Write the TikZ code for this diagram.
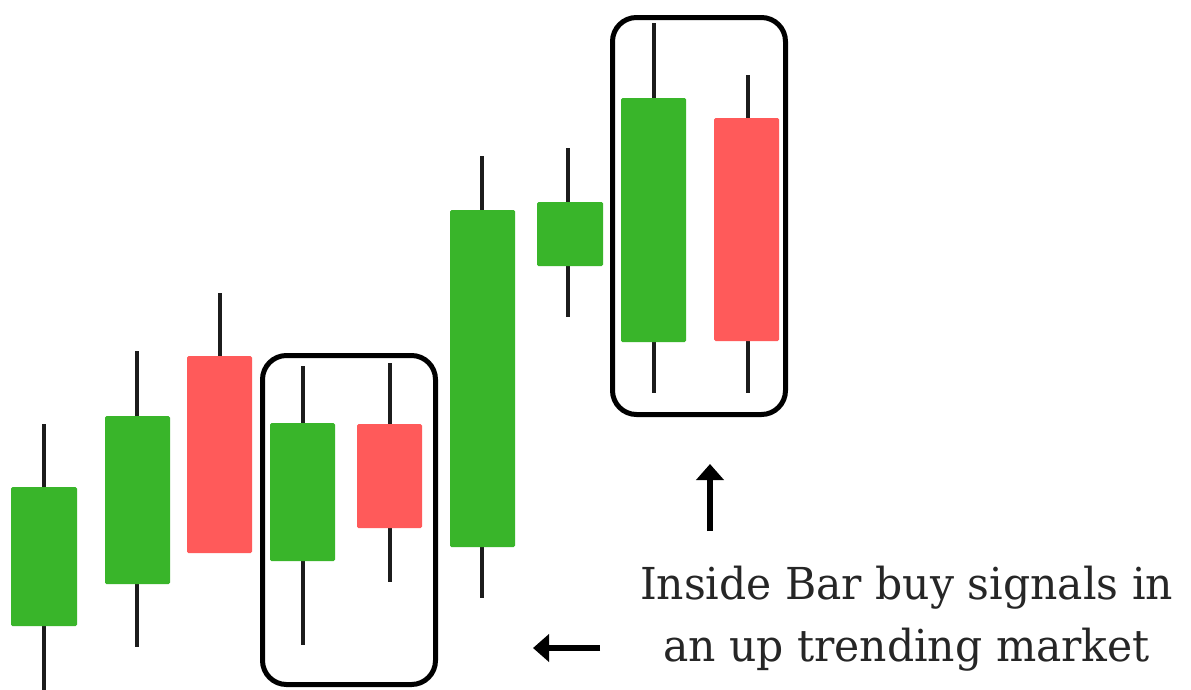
\documentclass[tikz,border=0pt]{standalone}
\usepackage{fontspec}
\setmainfont{DejaVu Serif}
\usetikzlibrary{arrows.meta}

\definecolor{bull}{RGB}{57,181,42}
\definecolor{bear}{RGB}{255,90,90}
\definecolor{wickc}{RGB}{28,28,28}

\newsavebox\captionline
\sbox\captionline{\fontsize{44}{62}\selectfont Inside Bar buy signals in}

\begin{document}
\begin{tikzpicture}[x=1pt,y=-1pt,
  wick/.style={draw=wickc,line width=4pt},
  body/.style={rounded corners=1.5pt},
  signalbox/.style={draw=black,line width=5pt,rounded corners=24pt},
  pointer/.style={draw=black,line width=6.5pt,-{Triangle[width=27pt,length=16pt]}},
  caption/.style={anchor=base,inner sep=0pt,font=\fontsize{44}{62}\selectfont,text=black!85}]
\useasboundingbox (0,0) rectangle (1191,689);
\fill[white] (0,0) rectangle (1191,689);

% candles: body left, body right, body top, body bottom, wick x, wick top, wick bottom, colour
\foreach \l/\r/\t/\b/\w/\wt/\wb/\c in {
  11/77/487/626/44/424/695/bull,
  105/170/416/584/137/351/647/bull,
  187/252/356/553/220/293/553/bear,
  270/335/423/561/303/366/645/bull,
  357/422/424/528/390/363/582/bear,
  450/515/210/547/482/156/598/bull,
  537/603/202/266/568/148/317/bull,
  621/686/98/342/654/23/393/bull,
  714/779/118/341/748/75/393/bear}
{
  \draw[wick] (\w,\wt) -- (\w,\wb);
  \fill[body,\c] (\l,\t) rectangle (\r,\b);
}

% inside bar frames
\draw[signalbox] (262.5,355.5) rectangle (435.5,684.5);
\draw[signalbox] (612.5,17.5) rectangle (785.5,414.5);

% caption
\pgfmathsetmacro\capsx{533/\wd\captionline}
\node[caption] (cap1) at (906.5,599) {\scalebox{\capsx}[1]{Inside Bar buy signals in}};
\node[caption] (cap2) at (906.5,661) {\scalebox{\capsx}[1]{an up trending market}};

% pointers towards the frames
\coordinate (upfrom) at (710,531);
\coordinate (upto) at (710,464);
\coordinate (leftfrom) at (600,648);
\coordinate (leftto) at (533,648);
\draw[pointer] (upfrom) -- (upto);
\draw[pointer] (leftfrom) -- (leftto);
\end{tikzpicture}
\end{document}
